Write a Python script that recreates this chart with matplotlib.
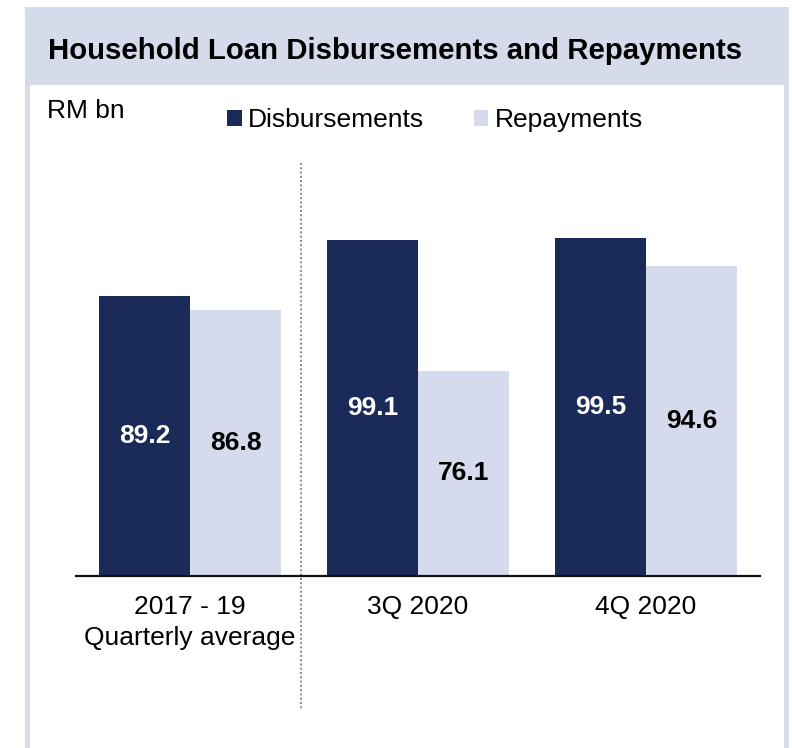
import matplotlib
matplotlib.use("Agg")
import matplotlib.pyplot as plt
import matplotlib.transforms as mtransforms
from matplotlib.patches import Rectangle
import numpy as np

plt.rcParams["font.family"] = ["Liberation Sans", "DejaVu Sans"]

# Data (RM billion)
categories = ["2017 - 19\nQuarterly average", "3Q 2020", "4Q 2020"]
disbursements = [89.2, 99.1, 99.5]
repayments = [86.8, 76.1, 94.6]
series_names = ["Disbursements", "Repayments"]
title = "Household Loan Disbursements and Repayments"
unit_label = "RM bn"

DARK = "#1a2b59"
LIGHT = "#d5daec"
BAND = "#d6dbeb"

W, H = 792, 748
fig = plt.figure(figsize=(W / 100, H / 100), dpi=100)


def fx(px):
    return px / W


def fy(py):
    return 1 - py / H


# Panel frame: title band plus side borders
fig.patches.append(Rectangle((fx(25), fy(85)), fx(789) - fx(25), fy(7) - fy(85),
                             transform=fig.transFigure, facecolor=BAND, edgecolor="none", zorder=0))
fig.patches.append(Rectangle((fx(25), fy(748)), fx(30) - fx(25), fy(85) - fy(748),
                             transform=fig.transFigure, facecolor=BAND, edgecolor="none", zorder=0))
fig.patches.append(Rectangle((fx(784), fy(748)), fx(789) - fx(784), fy(85) - fy(748),
                             transform=fig.transFigure, facecolor=BAND, edgecolor="none", zorder=0))

fig.text(fx(48), fy(51), title, fontsize=21.2, fontweight="bold", ha="left", va="center", color="#000000")
fig.text(fx(47), fy(111), unit_label, fontsize=19, ha="left", va="center", color="#000000")

# Axes: baseline at y=576 px, value 40 at the baseline
y_min, y_max = 40, 112
px_per_unit = 5.684
top_px = 576 - (y_max - y_min) * px_per_unit
ax = fig.add_axes([fx(76), fy(576), fx(760) - fx(76), fy(top_px) - fy(576)])
ax.set_xlim(-0.5, 2.5)
ax.set_ylim(y_min, y_max)

x = np.arange(len(categories))
w = 0.4
b1 = ax.bar(x - w / 2, disbursements, width=w, color=DARK, label=series_names[0])
b2 = ax.bar(x + w / 2, repayments, width=w, color=LIGHT, label=series_names[1])

ax.bar_label(b1, labels=[f"{v:.1f}" for v in disbursements], label_type="center",
             color="white", fontsize=19, fontweight="bold")
ax.bar_label(b2, labels=[f"{v:.1f}" for v in repayments], label_type="center",
             color="black", fontsize=19, fontweight="bold")

for side in ["top", "left", "right"]:
    ax.spines[side].set_visible(False)
ax.spines["bottom"].set_linewidth(1.6)
ax.spines["bottom"].set_color("#111111")
ax.set_yticks([])
ax.set_xticks(x)
ax.set_xticklabels(categories, fontsize=19, linespacing=1.32)
ax.tick_params(axis="x", length=0, pad=14)
ax.patch.set_alpha(0)

# Dotted separator between the historical average and 2020 quarters
trans = mtransforms.blended_transform_factory(ax.transData, fig.transFigure)
ax.plot([0.487, 0.487], [fy(163), fy(708)], transform=trans, clip_on=False,
        color="#8a8a8a", linestyle=(0, (1, 1.2)), linewidth=1.4)

fig.legend(handles=[b1, b2], labels=series_names, loc="center",
           bbox_to_anchor=(fx(435), fy(120)), ncol=2, frameon=False,
           fontsize=19, handlelength=0.55, handleheight=0.55,
           handletextpad=0.25, columnspacing=1.87)

fig.savefig("out.png", dpi=100, facecolor="white")
